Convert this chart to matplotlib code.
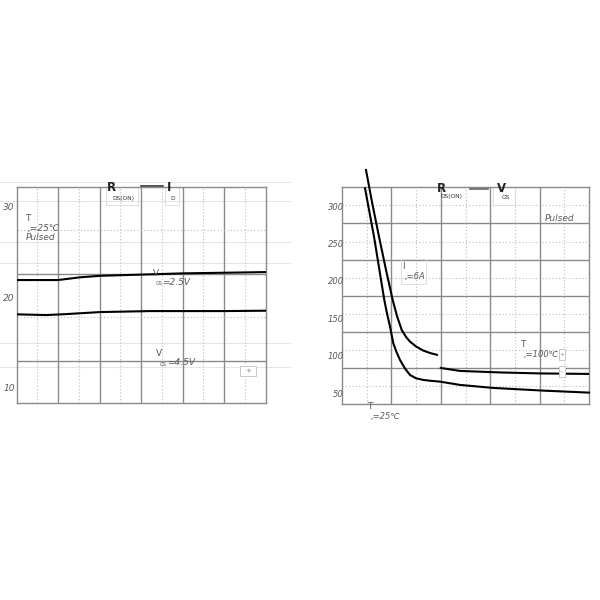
import numpy as np
import matplotlib
matplotlib.use("Agg")
import matplotlib.pyplot as plt
from matplotlib.patches import Rectangle

# =========================
# DATA
# =========================
# left chart: R_DS(ON) vs I_D, x in grid columns
left_x_hi = [0.0, 1.0, 1.53, 2.01, 3.22, 4.02, 5.06, 6.0]
left_y_hi = [21.99, 21.99, 22.29, 22.46, 22.62, 22.73, 22.80, 22.87]
left_x_lo = [0.0, 0.72, 1.21, 2.01, 3.22, 5.0, 6.0]
left_y_lo = [18.20, 18.12, 18.23, 18.45, 18.56, 18.56, 18.60]
left_ticks = [10, 20, 30]

# right chart: R_DS(ON) vs V_GS
right_x_a1 = [0.486, 0.607, 0.749, 0.891, 1.026, 1.113, 1.208, 1.296, 1.377,
              1.498, 1.640, 1.781, 1.923]
right_y_a1 = [349.8, 307.0, 260.6, 216.0, 175.9, 154.5, 135.8, 126.4, 120.1,
              113.7, 108.3, 104.9, 102.5]
right_x_a2 = [2.0, 2.39, 3.2, 4.0, 5.0]
right_y_a2 = [84.9, 80.9, 78.9, 77.6, 76.9]
right_x_b = [0.466, 0.648, 0.856, 0.911, 0.972, 1.038, 1.103, 1.174, 1.275, 1.377,
             1.498, 1.646, 1.781, 1.984, 2.389, 3.057, 4.069, 5.0]
right_y_b = [325.3, 260.6, 175.9, 157.8, 140.2, 118.0, 106.3, 95.6, 84.2, 75.5,
             71.1, 68.9, 67.8, 66.6, 62.2, 58.2, 54.6, 51.9]
right_ticks = [50, 100, 150, 200, 250, 300]

# grid positions
left_hgrid_solid = [22.65, 13.04]
left_hgrid_dot = [27.51, 17.90]
left_faint = [30.75, 26.22, 23.87, 15.03, 12.38]
right_hgrid_solid = [279.0, 229.4, 181.2, 133.1, 84.9]
right_hgrid_dot = [303.0, 253.5, 205.3, 157.2, 109.0, 60.8]

GRID = "#8a8a8a"
DOT = "#bdbdbd"
TXT = "#5a5a5a"
FAINT = "#e6e6e6"

fig = plt.figure(figsize=(6, 6), dpi=100)
fig.patch.set_facecolor("white")


def frame(ax, ncols, hsolid, hdot):
    for s in ax.spines.values():
        s.set_color(GRID)
        s.set_linewidth(1.0)
    for c in range(1, ncols):
        ax.axvline(c, color=GRID, lw=1.0, zorder=1)
    for c in np.arange(0.5, ncols, 1.0):
        ax.axvline(c, color=DOT, lw=0.8, ls=(0, (1, 2)), zorder=1)
    for h in hsolid:
        ax.axhline(h, color=GRID, lw=1.0, zorder=1)
    for h in hdot:
        ax.axhline(h, color=DOT, lw=0.8, ls=(0, (1, 2)), zorder=1)
    ax.set_xticks([])
    ax.set_yticks([])


# =========================
# LEFT CHART
# =========================
axL = fig.add_axes([0.0275, 0.3283, 0.415, 0.36])
axL.set_xlim(0, 6)
axL.set_ylim(8.40, 32.27)
frame(axL, 6, left_hgrid_solid, left_hgrid_dot)

for h in left_faint:
    axL.plot([-0.4, 6.59], [h, h], color=FAINT, lw=0.8, clip_on=False, zorder=0)
axL.plot([-0.4, 6.59], [32.8, 32.8], color=FAINT, lw=0.8, clip_on=False, zorder=0)

axL.plot(left_x_hi, left_y_hi, color="black", lw=1.5, zorder=3)
axL.plot(left_x_lo, left_y_lo, color="black", lw=1.5, zorder=3)

for t in left_ticks:
    axL.text(-0.04, t, str(t), ha="right", va="center", fontsize=6.5,
             style="italic", color=TXT, clip_on=False)

# header R_DS(ON) —— I_D
axL.text(2.18, 32.27, "R", ha="left", va="center", fontsize=8.5,
         fontweight="bold", color="#222222", clip_on=False)
axL.text(2.30, 31.05, "DS(ON)", ha="left", va="center", fontsize=4.2, color="#333333")
axL.plot([3.0, 3.53], [32.38, 32.38], color="#333333", lw=1.2, clip_on=False)
axL.text(3.63, 32.27, "I", ha="left", va="center", fontsize=8.5,
         fontweight="bold", color="#222222", clip_on=False)
axL.text(3.70, 31.05, "D", ha="left", va="center", fontsize=4.2, color="#333333")
axL.add_patch(Rectangle((2.16, 30.3), 0.77, 1.97, fill=False, ec="#dddddd", lw=0.7, zorder=2))
axL.add_patch(Rectangle((3.58, 30.3), 0.34, 1.97, fill=False, ec="#dddddd", lw=0.7, zorder=2))

axL.text(0.20, 28.84, "T", ha="left", va="center", fontsize=6.5, color=TXT)
axL.text(0.28, 27.73, ",=25\u2103", ha="left", va="center", fontsize=6.5,
         style="italic", color=TXT)
axL.text(0.22, 26.74, "Pulsed", ha="left", va="center", fontsize=6.5,
         style="italic", color=TXT)

axL.text(3.29, 22.76, "V", ha="left", va="center", fontsize=6.5, color=TXT, zorder=4)
axL.text(3.36, 21.66, "GS", ha="left", va="center", fontsize=3.5, color=TXT)
axL.text(3.50, 21.72, "=2.5V", ha="left", va="center", fontsize=6.5,
         style="italic", color=TXT)
axL.text(3.36, 13.92, "V", ha="left", va="center", fontsize=6.5, color=TXT)
axL.text(3.45, 12.70, "GS", ha="left", va="center", fontsize=3.5, color=TXT)
axL.text(3.62, 12.90, "=4.5V", ha="left", va="center", fontsize=6.5,
         style="italic", color=TXT)

axL.add_patch(Rectangle((5.39, 11.38), 0.38, 1.1, fill=True, fc="white",
                        ec="#c8c8c8", lw=0.7, zorder=4))
axL.text(5.58, 11.93, "+", ha="center", va="center", fontsize=5, color="#888888", zorder=5)

# =========================
# RIGHT CHART
# =========================
axR = fig.add_axes([0.57, 0.3267, 0.4117, 0.3617])
axR.set_xlim(0, 5)
axR.set_ylim(36.7, 327.1)
frame(axR, 5, right_hgrid_solid, right_hgrid_dot)

axR.plot(right_x_a1, right_y_a1, color="black", lw=1.5, zorder=3, clip_on=False)
axR.plot(right_x_a2, right_y_a2, color="black", lw=1.5, zorder=3)
axR.plot(right_x_b, right_y_b, color="black", lw=1.5, zorder=3, clip_on=False)

for t in right_ticks:
    axR.text(0.04, t, str(t), ha="right", va="center", fontsize=6.0,
             style="italic", color=TXT, clip_on=False, zorder=4)

# header R_DS(ON) —— V_GS
axR.text(1.92, 325.7, "R", ha="left", va="center", fontsize=8.5,
         fontweight="bold", color="#222222", clip_on=False)
axR.text(2.00, 313.7, "DS(ON)", ha="left", va="center", fontsize=4.2, color="#333333")
axR.plot([2.59, 2.94], [325.7, 325.7], color="#707070", lw=2.0, clip_on=False)
axR.text(3.14, 325.7, "V", ha="left", va="center", fontsize=8.5,
         fontweight="bold", color="#222222", clip_on=False)
axR.text(3.24, 312.4, "GS", ha="left", va="center", fontsize=4.2, color="#333333")
axR.add_patch(Rectangle((3.06, 303.0), 0.44, 24.1, fill=False, ec="#dddddd", lw=0.7, zorder=2))

axR.text(1.21, 220.5, "I", ha="left", va="center", fontsize=6.5, color=TXT)
axR.text(1.27, 207.1, ",=6A", ha="left", va="center", fontsize=6.0,
         style="italic", color=TXT)
axR.add_patch(Rectangle((1.19, 197.0), 0.52, 34.0, fill=False, ec="#dddddd", lw=0.7, zorder=2))

axR.text(4.10, 284.3, "Pulsed", ha="left", va="center", fontsize=6.5,
         style="italic", color=TXT)

axR.text(3.60, 115.7, "T", ha="left", va="center", fontsize=6.5, color=TXT)
axR.text(3.68, 102.4, ",=100\u2103", ha="left", va="center", fontsize=6.0,
         style="italic", color=TXT)
axR.add_patch(Rectangle((4.39, 96.0), 0.13, 14.0, fill=True, fc="white",
                        ec="#c8c8c8", lw=0.7, zorder=4))
axR.text(4.455, 103.0, "+", ha="center", va="center", fontsize=4.5, color="#888888", zorder=5)
axR.add_patch(Rectangle((4.39, 73.0), 0.13, 14.0, fill=True, fc="white",
                        ec="#c8c8c8", lw=0.7, zorder=4))
axR.text(4.455, 80.0, "-.", ha="center", va="center", fontsize=4.5, color="#888888", zorder=5)

axR.text(0.51, 32.8, "T", ha="left", va="center", fontsize=6.5, color=TXT, clip_on=False)
axR.text(0.59, 19.4, ",=25\u2103", ha="left", va="center", fontsize=6.0,
         style="italic", color=TXT, clip_on=False)

fig.savefig("out.png", dpi=100, facecolor="white")
